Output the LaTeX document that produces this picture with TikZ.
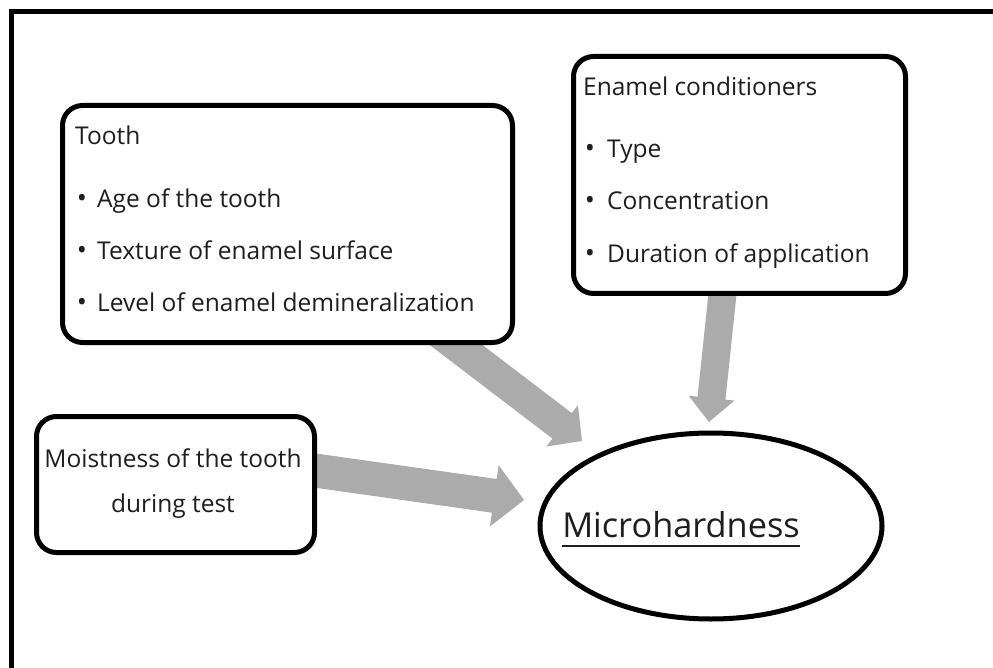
\documentclass[tikz,border=0pt]{standalone}
\usepackage{fontspec}
\setmainfont{Open Sans}
\usetikzlibrary{calc,shapes.geometric}
\definecolor{arrowgray}{RGB}{171,171,171}
\definecolor{ink}{RGB}{30,30,30}

% Block arrow: #1 start, #2 tip, #3 half shaft width, #4 half head width, #5 head length
\newcommand\flowarrow[5]{%
  \coordinate (hb) at ($(#2)!#5!(#1)$);
  \fill[arrowgray] ($(#1)!#3!90:(#2)$) -- ($(hb)!#3!-90:(#1)$) -- ($(hb)!#4!-90:(#1)$)
    -- (#2) -- ($(hb)!#4!90:(#1)$) -- ($(hb)!#3!90:(#1)$) -- ($(#1)!#3!-90:(#2)$) -- cycle;
}

\begin{document}
\begin{tikzpicture}[x=1pt,y=-1pt,
  box/.style={draw, line width=5pt, rounded corners=20pt, fill=white, inner sep=0pt, anchor=north west},
  txt/.style={inner sep=0pt, anchor=base west, font=\fontsize{24.5}{28}\selectfont, text=ink},
  ctxt/.style={inner sep=0pt, anchor=base, font=\fontsize{24.5}{28}\selectfont, text=ink},
  bul/.style={inner sep=0pt, anchor=base, font=\fontsize{27}{28}\selectfont, text=ink},
]
\useasboundingbox (0,0) rectangle (993,668);
\clip (0,0) rectangle (993,668);

% outer frame
\draw[line width=5pt] (11,700) -- (11,12) -- (1000,12);

% arrow anchors
\coordinate (a1s) at (426,322); \coordinate (a1e) at (582,441);
\coordinate (a2s) at (725,270); \coordinate (a2e) at (709,422);
\coordinate (a3s) at (290,467); \coordinate (a3e) at (524,500);
\flowarrow{a1s}{a1e}{16pt}{26pt}{25pt}
\flowarrow{a2s}{a2e}{14pt}{23pt}{24pt}
\flowarrow{a3s}{a3e}{17pt}{31pt}{30pt}

% boxes
\node[box, minimum width=450pt, minimum height=237pt] (tooth) at (60,103) {};
\node[box, minimum width=332pt, minimum height=237pt] (cond) at (571,54) {};
\node[box, minimum width=278pt, minimum height=136pt] (moist) at (34,414) {};
\node[draw, ellipse, line width=5pt, fill=white, inner sep=0pt,
      minimum width=342pt, minimum height=186pt] (mh) at (711,526) {};

% tooth factors
\node[txt] (t0) at (75,145) {Tooth};
\node[bul] (tb1) at (82,208) {•};
\node[txt] (t1) at (97,208) {Age of the tooth};
\node[bul] (tb2) at (82,260) {•};
\node[txt] (t2) at (97,260) {Texture of enamel surface};
\node[bul] (tb3) at (82,312) {•};
\node[txt] (t3) at (97,312) {Level of enamel demineralization};

% conditioner factors
\node[txt] (c0) at (583,96) {Enamel conditioners};
\node[bul] (cb1) at (590,158) {•};
\node[txt] (c1) at (607,158) {Type};
\node[bul] (cb2) at (590,210) {•};
\node[txt] (c2) at (607,210) {Concentration};
\node[bul] (cb3) at (590,263) {•};
\node[txt] (c3) at (607,263) {Duration of application};

% moisture
\node[ctxt] (m1) at (173,467) {Moistness of the tooth};
\node[ctxt] (m2) at (173,512) {during test};

% outcome
\node[inner sep=0pt, anchor=base, font=\fontsize{34.3}{40}\selectfont, text=ink] (mht) at (681,537) {Microhardness};
\draw[line width=1.5pt, ink] ([yshift=-9pt]mht.base west) -- ([yshift=-9pt]mht.base east);
\end{tikzpicture}
\end{document}
